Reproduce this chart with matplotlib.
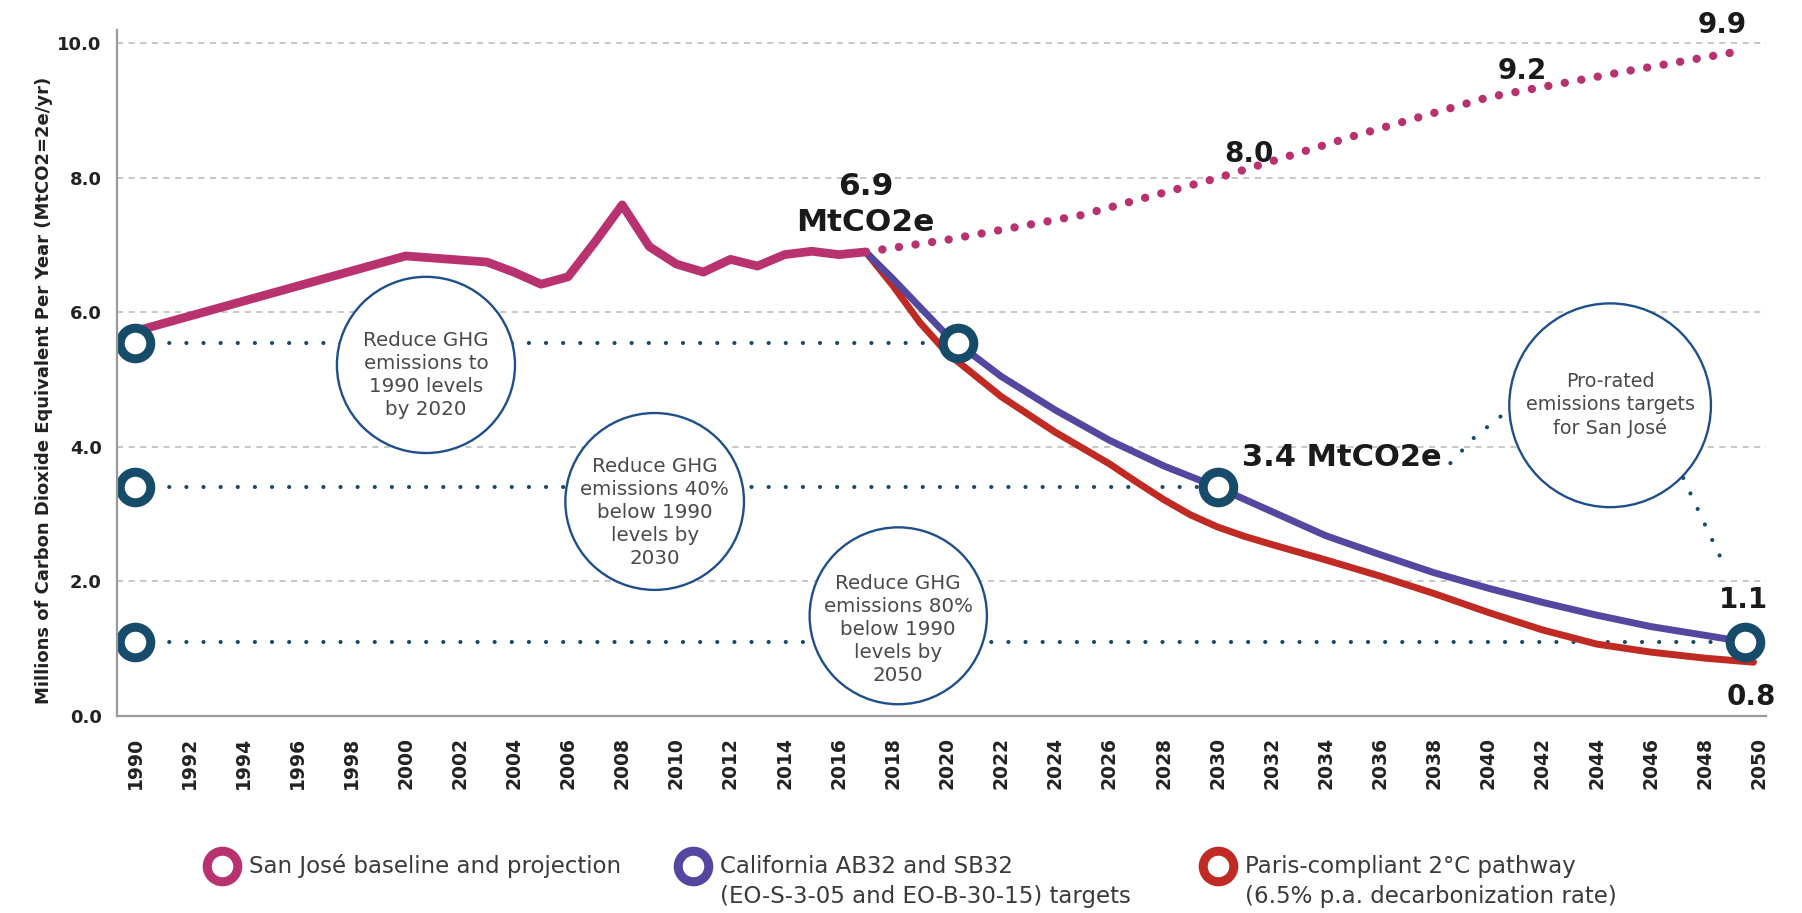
import matplotlib
matplotlib.use("Agg")
import matplotlib.pyplot as plt
from matplotlib.patches import Ellipse
from matplotlib.lines import Line2D
import numpy as np

# San José historic inventory (MtCO2e)
base_years = [1990, 2000, 2001, 2002, 2003, 2004, 2005, 2006, 2007, 2008,
              2009, 2010, 2011, 2012, 2013, 2014, 2015, 2016, 2017]
base_vals = [5.72, 6.84, 6.81, 6.78, 6.75, 6.6, 6.42, 6.53, 7.05, 7.6,
             6.98, 6.72, 6.6, 6.79, 6.69, 6.86, 6.91, 6.86, 6.9]

# business-as-usual projection
proj_years = [2017, 2020, 2025, 2030, 2035, 2040, 2045, 2049.5]
proj_vals = [6.9, 7.08, 7.45, 8.0, 8.62, 9.2, 9.58, 9.9]

# California AB32 / SB32 pathway
ca_years = [2017, 2018, 2019, 2020, 2022, 2024, 2026, 2028, 2030, 2032,
            2034, 2036, 2038, 2040, 2042, 2044, 2046, 2048, 2049.5]
ca_vals = [6.9, 6.5, 6.08, 5.66, 5.05, 4.55, 4.1, 3.72, 3.4, 3.04,
           2.68, 2.4, 2.13, 1.9, 1.69, 1.5, 1.33, 1.2, 1.1]

# Paris-compliant 2C pathway
paris_years = [2017, 2018, 2019, 2020, 2022, 2024, 2026, 2027, 2028, 2029,
               2030, 2031, 2032, 2034, 2036, 2038, 2040, 2042, 2044, 2046,
               2048, 2049.8]
paris_vals = [6.9, 6.4, 5.85, 5.4, 4.75, 4.22, 3.75, 3.48, 3.22, 2.99,
              2.81, 2.67, 2.55, 2.32, 2.08, 1.82, 1.54, 1.28, 1.07, 0.95,
              0.86, 0.8]

# targets: level and year it should be reached
target_levels = [5.55, 3.4, 1.1]
target_years = [2020.4, 2030, 2049.5]

x_ticks = list(range(1990, 2051, 2))
y_ticks = [0, 2, 4, 6, 8, 10]

pink = "#b8326f"
purple = "#5447a0"
red = "#bf2b23"
navy = "#174b6a"
ring_blue = "#1f4f8b"

fig = plt.figure(figsize=(18.02, 9.13), dpi=100)
ax = fig.add_axes([117/1802, 1-716/913, (1766-117)/1802, (716-30)/913])
ax.set_xlim(1989.335, 2050.26)
ax.set_ylim(0, 10.2)

for s in ["top", "right"]:
    ax.spines[s].set_visible(False)
for s in ["left", "bottom"]:
    ax.spines[s].set_color("#9a9a9a")
    ax.spines[s].set_linewidth(1.6)
    ax.spines[s].set_zorder(7)

ax.set_yticks(y_ticks)
ax.set_yticklabels([f"{v:.1f}" for v in y_ticks], fontsize=13, fontweight="bold", color="#222222")
ax.set_xticks(x_ticks)
ax.set_xticklabels([str(v) for v in x_ticks], rotation=90, fontsize=13.5, fontweight="bold", color="#222222")
ax.tick_params(axis="y", length=0, pad=11)
ax.tick_params(axis="x", length=0, pad=15)
ax.grid(axis="y", color="#b8b8b8", linestyle=(0, (4, 3.6)), linewidth=1.1, zorder=0)
ax.set_axisbelow(True)

dots = dict(color=navy, lw=3, linestyle=(0, (0.01, 4.1)), dash_capstyle="round", zorder=2)

# dotted reference lines from the 1990 marker to each target
for lvl, yr in zip(target_levels, target_years):
    ax.plot([base_years[0], yr], [lvl, lvl], **dots)

# annotation bubbles
bubbles = [
    ((2000.75, 5.22), 6.58, 2.62, "Reduce GHG\nemissions to\n1990 levels\nby 2020", 0.15, 14.3),
    ((2009.2, 3.19), 6.6, 2.63, "Reduce GHG\nemissions 40%\nbelow 1990\nlevels by\n2030", 0.17, 14.3),
    ((2018.2, 1.49), 6.55, 2.63, "Reduce GHG\nemissions 80%\nbelow 1990\nlevels by\n2050", 0.2, 14.3),
    ((2044.5, 4.62), 7.45, 3.03, "Pro-rated\nemissions targets\nfor San José", 0.0, 13.8),
]
for (cx, cy), w, h, txt, dy, fs in bubbles:
    ax.add_patch(Ellipse((cx, cy), w, h, facecolor="white", edgecolor=ring_blue, lw=1.7, zorder=3))
    ax.text(cx, cy - dy, txt, ha="center", va="center", fontsize=fs,
            color="#4a4a4a", linespacing=1.27, zorder=4)

# dotted leaders to the pro-rated bubble
ax.plot([2038.6, 2039.5, 2040.6], [3.76, 4.15, 4.5], **dots)
ax.plot([2047.2, 2048.0, 2048.8], [3.54, 2.85, 2.17], **dots)

# emission lines
ax.plot(paris_years, paris_vals, color=red, lw=5, solid_capstyle="round",
        solid_joinstyle="round", zorder=4)
ax.plot(ca_years, ca_vals, color=purple, lw=5, solid_capstyle="round",
        solid_joinstyle="round", zorder=4)
ax.plot(proj_years, proj_vals, color=pink, lw=6, linestyle=(0, (0.01, 2.0)),
        dash_capstyle="round", zorder=5)
ax.plot(base_years, base_vals, color=pink, lw=6.3, solid_joinstyle="round",
        solid_capstyle="round", zorder=5)

# target markers
ring = dict(marker="o", ms=22, mew=6.5, mfc="white", mec=navy, linestyle="none", zorder=6)
ax.plot([base_years[0]] * len(target_levels), target_levels, **ring)
ax.plot(target_years, target_levels, **ring)

# value labels
lab = dict(textcoords="offset pixels", ha="center", va="center", fontsize=20,
           fontweight="bold", color="#1a1a1a", zorder=8, annotation_clip=False)
ax.annotate(f"{base_vals[-1]:.1f}\nMtCO2e", (base_years[-1], base_vals[-1]), xytext=(0, 47),
            linespacing=1.3, **dict(lab, fontsize=22.5))
ax.annotate(f"{proj_vals[3]:.1f}", (proj_years[3], proj_vals[3]), xytext=(31, 24), **lab)
ax.annotate(f"{proj_vals[5]:.1f}", (proj_years[5], proj_vals[5]), xytext=(34, 26), **lab)
ax.annotate(f"{proj_vals[-1]:.1f}", (proj_years[-1], proj_vals[-1]), xytext=(-23, 25), **lab)
ax.annotate(f"{target_levels[1]:.1f} MtCO2e", (target_years[1], target_levels[1]),
            xytext=(24, 30), **dict(lab, ha="left", fontsize=22))
ax.annotate(f"{ca_vals[-1]:.1f}", (ca_years[-1], ca_vals[-1]), xytext=(-2, 42), **lab)
ax.annotate(f"{paris_vals[-1]:.1f}", (paris_years[-1], paris_vals[-1]), xytext=(-2, -35), **lab)

fig.text(44/1802, 1-390/913, "Millions of Carbon Dioxide Equivalent Per Year (MtCO2=2e/yr)",
         rotation=90, ha="center", va="center", fontsize=13, fontweight="bold", color="#222222")

# legend
legend_items = [
    (222, pink, ["San José baseline and projection"]),
    (693, purple, ["California AB32 and SB32", "(EO-S-3-05 and EO-B-30-15) targets"]),
    (1218, red, ["Paris-compliant 2°C pathway", "(6.5% p.a. decarbonization rate)"]),
]
for px, col, lines in legend_items:
    fy = 1 - 866/913
    fig.add_artist(Line2D([px/1802], [fy], transform=fig.transFigure, marker="o", ms=22,
                          mew=6.5, mfc="white", mec=col, linestyle="none"))
    for i, line in enumerate(lines):
        fig.text((px + 27)/1802, 1 - (866 + 30*i)/913, line, ha="left", va="center",
                 fontsize=16.5, color="#3a3a3a")

fig.savefig("out.png", dpi=100, facecolor="white")
